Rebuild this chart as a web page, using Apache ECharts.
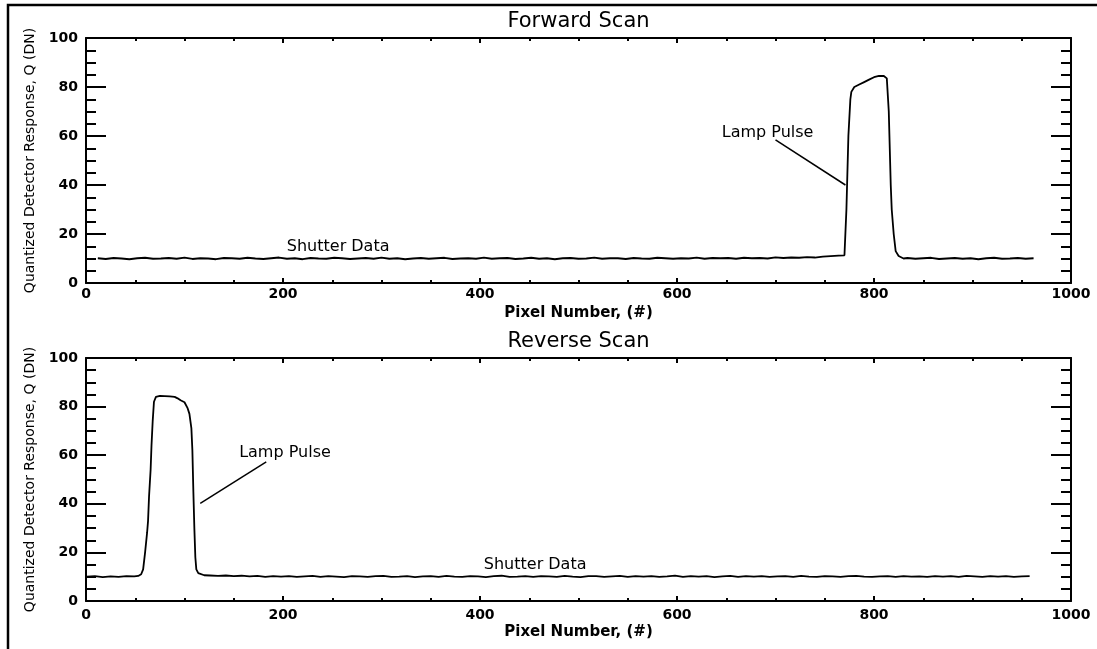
<!DOCTYPE html>
<html>
<head>
<meta charset="utf-8">
<title>Forward / Reverse Scan</title>
<script src="https://cdn.jsdelivr.net/npm/echarts@6/dist/echarts.min.js"></script>
<style>
html, body { margin: 0; padding: 0; background: #fff; }
#main { width: 1097px; height: 649px; }
</style>
</head>
<body>
<div id="main"></div>
<script>
// x ticks / y ticks
var xMin = 0, xMax = 1000, xStep = 200;
var yMin = 0, yMax = 100, yStep = 20;
var titles = ['Forward Scan', 'Reverse Scan'];
var xName = 'Pixel Number, (#)';
var yName = 'Quantized Detector Response, Q (DN)';

// baseline samples are every 8 pixels
var baseStep = 8;

// forward scan: shutter data from pixel 12, lamp pulse near 800
var fwdLeftStart = 12;
var fwdLeft = [
  10.1, 9.8, 10.2, 10, 9.7, 10.1, 10.3, 9.9, 10, 10.2,
  9.9, 10.4, 9.8, 10.1, 10, 9.7, 10.2, 10.1, 9.9, 10.3,
  10, 9.8, 10.1, 10.4, 9.9, 10.1, 9.7, 10.2, 10, 9.9,
  10.3, 10.1, 9.8, 10, 10.2, 9.9, 10.4, 9.9, 10.1, 9.7,
  10, 10.2, 9.9, 10.1, 10.3, 9.8, 10, 10.1, 9.9, 10.4,
  9.9, 10.1, 10.2, 9.8, 10, 10.3, 9.9, 10.1, 9.7, 10.1,
  10.2, 9.9, 10, 10.4, 9.9, 10.1, 10.1, 9.8, 10.2, 10,
  9.9, 10.3, 10.1, 9.9, 10.1, 10, 10.4, 9.9, 10.2, 10.1,
  10.2, 9.9, 10.3, 10.1, 10.2, 10, 10.5, 10.2, 10.4, 10.3,
  10.6, 10.4, 10.8, 11, 11.2
];
var fwdPulse = [
  [770, 11.3], [771, 12], [772, 30], [774, 60], [776, 75], [777, 78],
  [780, 80], [785, 81], [790, 82], [795, 83], [800, 84], [805, 84.5],
  [810, 84.5], [813, 83.5], [815, 70], [816, 55], [817, 40], [818, 30],
  [820, 20], [822, 13], [825, 11], [830, 10]
];
var fwdRightStart = 834;
var fwdRight = [
  10.2, 9.9, 10.1, 10.3, 9.8, 10, 10.2, 9.9, 10.1, 9.7,
  10.1, 10.3, 9.9, 10, 10.2, 9.9, 10.1
];

// reverse scan: lamp pulse near 90, shutter data after
var revLeftStart = 1;
var revLeft = [10, 10.2, 9.8, 10.1, 9.9, 10.2, 10.1];
var revPulse = [
  [53, 10.3], [56, 11], [58, 13], [60, 20], [62, 28], [63, 33], [64, 43],
  [65.6, 54], [66.5, 64], [67.7, 74], [69, 82], [71, 84], [75, 84.4],
  [80, 84.3], [85, 84.2], [90, 84], [93, 83.4], [96, 82.6], [100, 81.8],
  [103, 79.5], [105, 77], [107, 71], [108, 62], [109, 45], [110, 30],
  [111, 18], [112, 13], [114, 11.5], [116, 11], [120, 10.6]
];
var revRightStart = 126;
var revRight = [
  10.5, 10.3, 10.5, 10.2, 10.4, 10.1, 10.3, 9.9, 10.2, 10,
  10.2, 9.9, 10.1, 10.3, 9.9, 10.2, 10, 9.8, 10.2, 10.1,
  9.9, 10.2, 10.3, 9.9, 10, 10.2, 9.8, 10.1, 10.2, 9.9,
  10.3, 10, 9.9, 10.2, 10.1, 9.8, 10.2, 10.4, 9.9, 10,
  10.2, 9.9, 10.2, 10.1, 9.9, 10.3, 10, 9.8, 10.2, 10.2,
  9.9, 10.1, 10.3, 9.9, 10.2, 10, 10.2, 9.9, 10.1, 10.4,
  9.9, 10.2, 10, 10.2, 9.8, 10.1, 10.3, 9.9, 10.2, 10,
  10.2, 9.9, 10.1, 10.2, 9.9, 10.3, 10, 9.9, 10.2, 10.1,
  9.9, 10.2, 10.3, 10, 9.9, 10.1, 10.2, 9.9, 10.2, 10,
  10.1, 9.9, 10.2, 10, 10.2, 9.9, 10.3, 10.1, 9.9, 10.2,
  10, 10.2, 9.9, 10.1, 10.2
];

// annotations (data units): [label, x, y] and pointer [x1, y1, x2, y2]
var fwdNotes = [['Lamp Pulse', 692, 61.3], ['Shutter Data', 256, 14.8]];
var fwdPointer = [700, 58.4, 771, 40];
var revNotes = [['Lamp Pulse', 202, 61], ['Shutter Data', 456, 14.8]];
var revPointer = [183, 57.3, 116, 40.2];

function baseline(start, ys) {
  return ys.map(function (y, i) { return [start + i * baseStep, y]; });
}
var fwdData = baseline(fwdLeftStart, fwdLeft).concat(fwdPulse, baseline(fwdRightStart, fwdRight));
var revData = baseline(revLeftStart, revLeft).concat(revPulse, baseline(revRightStart, revRight));

var FONT = 'DejaVu Sans';
var grids = [
  { left: 86, right: 26, top: 38, height: 245, outerBoundsMode: 'none' },
  { left: 86, right: 26, top: 358, height: 243, outerBoundsMode: 'none' }
];

var black = { color: '#000', width: 2 };
var plain = function (v) { return String(v); };
var xAxes = [], yAxes = [];
grids.forEach(function (g, i) {
  xAxes.push({
    type: 'value', gridIndex: i, position: 'bottom', min: xMin, max: xMax, interval: xStep,
    axisLine: { show: true, onZero: false, lineStyle: black },
    axisTick: { show: true, inside: true, length: 5, lineStyle: black },
    minorTick: { show: true, splitNumber: 4, length: 3, lineStyle: black },
    axisLabel: { color: '#000', fontFamily: FONT, fontSize: 14, fontWeight: 'bold', margin: i == 0 ? 4 : 7, formatter: plain },
    splitLine: { show: false },
    name: xName, nameLocation: 'middle', nameGap: i == 0 ? 23 : 24,
    nameTextStyle: { color: '#000', fontFamily: FONT, fontSize: 15, fontWeight: 'bold' }
  });
  xAxes.push({
    type: 'value', gridIndex: i, position: 'top', min: xMin, max: xMax, interval: xStep,
    axisLine: { show: true, onZero: false, lineStyle: black },
    axisTick: { show: true, inside: true, length: 5, lineStyle: black },
    minorTick: { show: true, splitNumber: 4, length: 3, lineStyle: black },
    axisLabel: { show: false },
    splitLine: { show: false },
    name: titles[i], nameLocation: 'middle', nameGap: 6,
    nameTextStyle: { color: '#000', fontFamily: FONT, fontSize: 21 }
  });
  yAxes.push({
    type: 'value', gridIndex: i, position: 'left', min: yMin, max: yMax, interval: yStep,
    axisLine: { show: true, onZero: false, lineStyle: black },
    axisTick: { show: true, inside: true, length: 20, lineStyle: black },
    minorTick: { show: true, splitNumber: 4, length: 10, lineStyle: black },
    axisLabel: { color: '#000', fontFamily: FONT, fontSize: 14, fontWeight: 'bold', margin: 8, formatter: plain },
    splitLine: { show: false },
    name: yName, nameLocation: 'middle', nameGap: 49,
    nameTextStyle: { color: '#000', fontFamily: FONT, fontSize: 14 }
  });
  yAxes.push({
    type: 'value', gridIndex: i, position: 'right', min: yMin, max: yMax, interval: yStep,
    axisLine: { show: true, onZero: false, lineStyle: black },
    axisTick: { show: true, inside: true, length: 20, lineStyle: black },
    minorTick: { show: true, splitNumber: 4, length: 10, lineStyle: black },
    axisLabel: { show: false },
    splitLine: { show: false }
  });
});

function scanSeries(idx, data, notes, ptr) {
  return {
    type: 'line', xAxisIndex: idx * 2, yAxisIndex: idx * 2,
    data: data, showSymbol: false, symbol: 'none',
    lineStyle: { color: '#000', width: 1.8 },
    markLine: {
      silent: true, symbol: ['none', 'none'],
      lineStyle: { color: '#000', width: 1.5, type: 'solid' },
      label: { show: false },
      data: [[{ coord: [ptr[0], ptr[1]] }, { coord: [ptr[2], ptr[3]] }]]
    },
    markPoint: {
      silent: true, symbol: 'circle', symbolSize: 0,
      label: { show: true, position: 'inside', formatter: '{b}', color: '#000', fontFamily: FONT, fontSize: 16 },
      data: notes.map(function (n) { return { name: n[0], coord: [n[1], n[2]] }; })
    }
  };
}

var chart = echarts.init(document.getElementById('main'));
chart.setOption({
  animation: false,
  backgroundColor: '#fff',
  grid: grids,
  xAxis: xAxes,
  yAxis: yAxes,
  series: [
    scanSeries(0, fwdData, fwdNotes, fwdPointer),
    scanSeries(1, revData, revNotes, revPointer)
  ],
  // outer frame (top and left edges)
  graphic: [
    { type: 'polyline', shape: { points: [[8, 649], [8, 5], [1097, 5]] }, style: { stroke: '#000', lineWidth: 2.5, fill: null } }
  ]
});
</script>
</body>
</html>
